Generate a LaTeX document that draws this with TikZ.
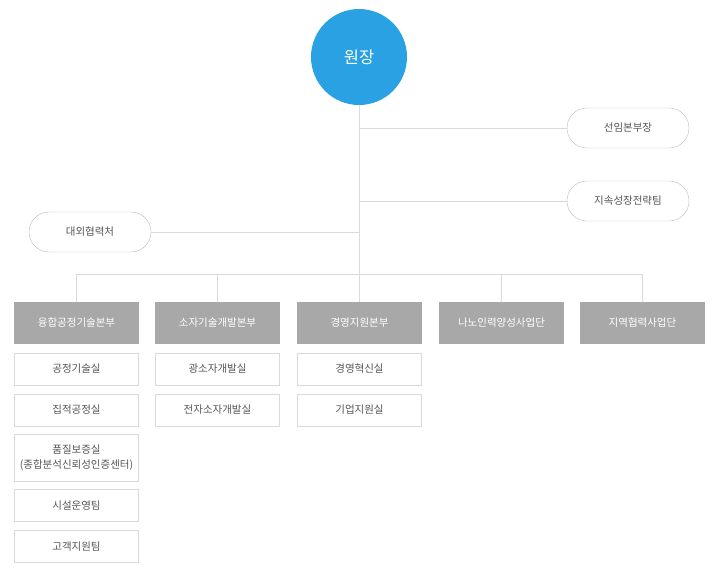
\documentclass[tikz,border=0pt]{standalone}
\usepackage{fontspec}
\setmainfont{Noto Sans CJK KR}
\usepackage{tikz}
\usetikzlibrary{positioning}

\definecolor{ceoblue}{HTML}{29A1E2}
\definecolor{linegray}{HTML}{DADADA}
\definecolor{deptgray}{HTML}{A8A8A8}
\definecolor{textgray}{HTML}{555555}
\definecolor{pillgray}{HTML}{BDBDBD}

\begin{document}
\begin{tikzpicture}[
  x=1pt, y=-1pt,
  font=\fontsize{10.5}{15}\selectfont,
  ceo/.style={circle, fill=ceoblue, minimum size=96pt, inner sep=0pt,
              text=white, font=\fontsize{16.5}{18}\selectfont},
  pill/.style={rectangle, rounded corners=20pt, draw=pillgray, fill=white,
               minimum width=122pt, minimum height=40pt, text=textgray},
  dept/.style={rectangle, fill=deptgray, minimum width=125pt,
               minimum height=42pt, text=white, inner sep=0pt},
  unit/.style={rectangle, draw=linegray, fill=white, minimum width=124pt,
               minimum height=32pt, text=textgray, align=center, inner sep=0pt},
  link/.style={draw=linegray, line width=0.9pt},
  ]
  \useasboundingbox (0,0) rectangle (720,570);

  %% Top: director and staff offices
  \node[ceo]  (head)   at (359, 57)  {원장};
  \node[pill] (senior) at (628, 128) {선임본부장};
  \node[pill] (growth) at (628, 201) {지속성장전략팀};
  \node[pill] (extern) at (90,  232) {대외협력처};
  \coordinate (bus) at (359, 274);

  %% Divisions
  \node[dept] (d1) at (76.5, 323) {융합공정기술본부};
  \node[dept] (d2) at (217.5, 323) {소자기술개발본부};
  \node[dept] (d3) at (359.5, 323) {경영지원본부};
  \node[dept] (d4) at (501.5, 323) {나노인력양성사업단};
  \node[dept] (d5) at (642.5, 323) {지역협력사업단};

  %% Units under divisions
  \node[unit] (u11) at (76.5, 369) {공정기술실};
  \node[unit] (u12) at (76.5, 410) {집적공정실};
  \node[unit, minimum height=47pt] (u13) at (76.5, 457.5)
        {품질보증실\\(종합분석신뢰성인증센터)};
  \node[unit] (u14) at (76.5, 505.5) {시설운영팀};
  \node[unit] (u15) at (76.5, 546.5) {고객지원팀};
  \node[unit] (u21) at (217.5, 369) {광소자개발실};
  \node[unit] (u22) at (217.5, 410) {전자소자개발실};
  \node[unit] (u31) at (359.5, 369) {경영혁신실};
  \node[unit] (u32) at (359.5, 410) {기업지원실};

  %% Trunk and side branches
  \draw[link] (head.south) -- (bus);
  \draw[link] (senior.west -| head.south) -- (senior.west);
  \draw[link] (growth.west -| head.south) -- (growth.west);
  \draw[link] (extern.east -| head.south) -- (extern.east);

  %% Bus and drops to divisions
  \draw[link] (d1.north |- bus) -- (d5.north |- bus);
  \foreach \d in {d1,d2,d3,d4,d5}
    \draw[link] (\d.north |- bus) -- (\d.north);
\end{tikzpicture}
\end{document}
